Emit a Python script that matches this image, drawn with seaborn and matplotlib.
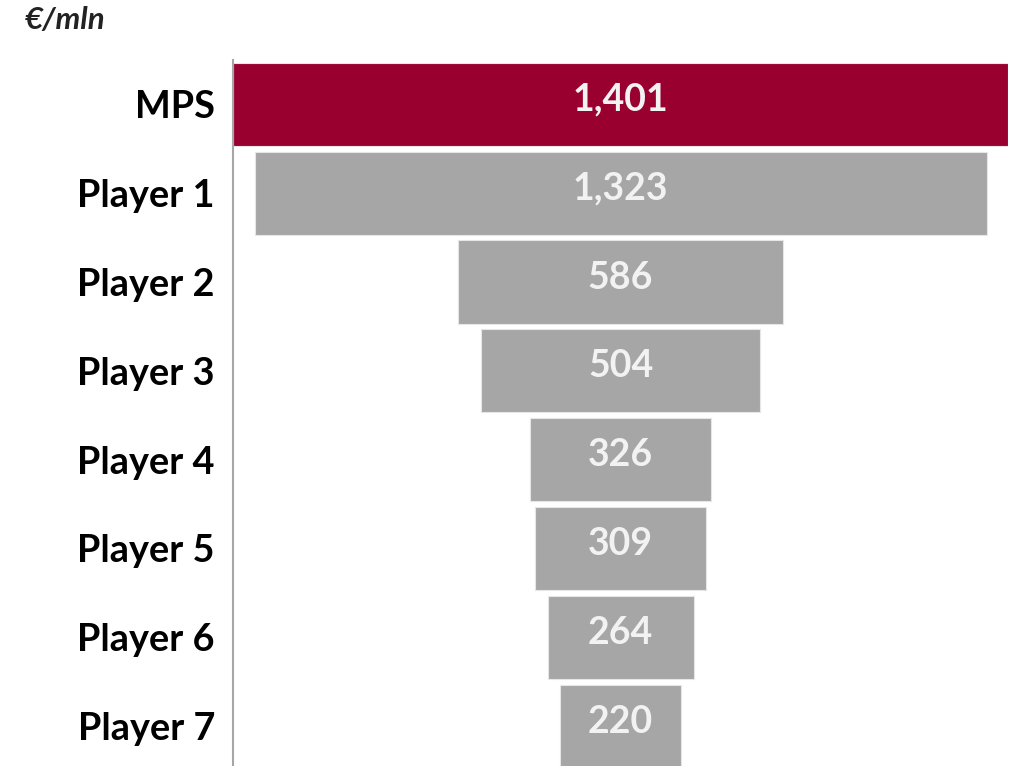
import matplotlib
matplotlib.use("Agg")
import matplotlib.pyplot as plt
import seaborn as sns
import pandas as pd

# Chart data
players = ["MPS", "Player 1", "Player 2", "Player 3", "Player 4",
           "Player 5", "Player 6", "Player 7"]
revenue = [1401, 1323, 586, 504, 326, 309, 264, 220]
bar_colors = ["#990030"] + ["#A6A6A6"] * 7
unit_label = "€/mln"


def plot_funnel(df):
    sns.set_theme(style="white")
    plt.rcParams["font.family"] = ["Lato", "DejaVu Sans"]

    fig = plt.figure(figsize=(10.12, 7.66), dpi=100)
    ax = fig.add_axes([0.2302, 0.0, 0.766, 0.9217])

    sns.barplot(data=df, x="revenue", y="player", hue="player",
                palette=bar_colors, legend=False, width=0.935,
                saturation=1, edgecolor="#E6E6E6", linewidth=0.8, ax=ax)

    # centre every bar on zero to get the funnel shape
    half_max = max(df["revenue"]) / 2
    for patch, val in zip(ax.patches, df["revenue"]):
        patch.set_x(-val / 2)
        ax.text(0, patch.get_y() + patch.get_height() / 2 - 0.05,
                f"{val:,}", ha="center", va="center",
                color="#F2F2F2", fontsize=27, fontweight="bold")

    ax.set_xlim(-half_max, half_max)
    ax.set_ylim(7.45, -0.5)
    ax.set_xlabel("")
    ax.set_ylabel("")
    ax.set_xticks([])
    ax.tick_params(axis="y", length=0, pad=13)
    for lbl in ax.get_yticklabels():
        lbl.set_fontsize(27.3)
        lbl.set_fontweight("bold")
        lbl.set_color("black")

    for side in ["top", "right", "bottom"]:
        ax.spines[side].set_visible(False)
    ax.spines["left"].set_color("#A6A6A6")
    ax.spines["left"].set_linewidth(1.5)

    fig.text(0.024, 0.974, unit_label, ha="left", va="center",
             fontsize=22.5, fontweight="bold", fontstyle="italic", color="#222222")

    fig.savefig("out.png", dpi=100)
    plt.close(fig)


def main():
    df = pd.DataFrame({"player": players, "revenue": revenue})
    plot_funnel(df)


if __name__ == "__main__":
    main()
